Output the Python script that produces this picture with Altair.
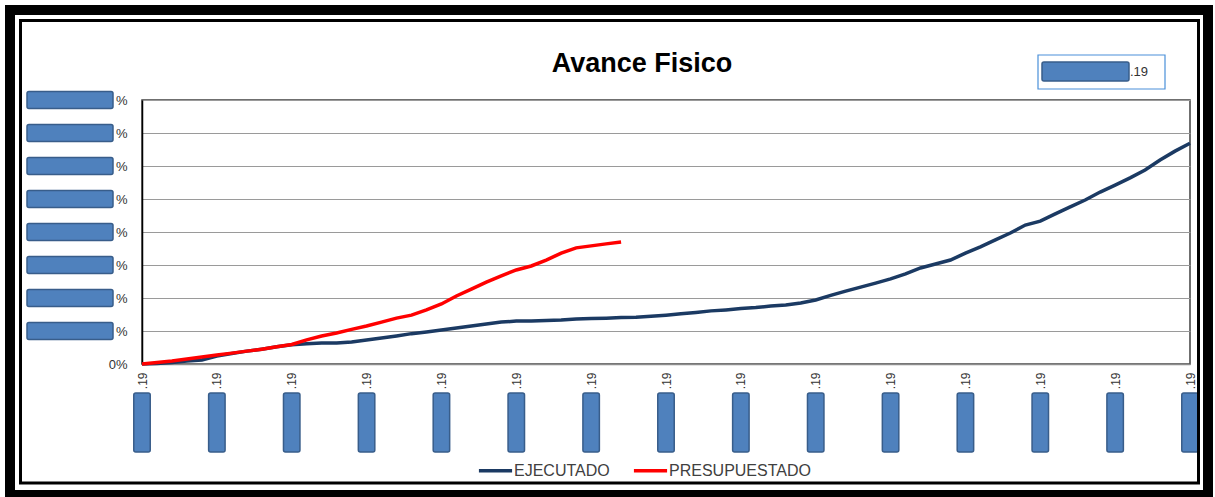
import altair as alt
import pandas as pd

# ---------------- data ----------------
series_names = ["EJECUTADO", "PRESUPUESTADO"]
series_colors = ["#1B3A63", "#FF0000"]

ejecutado = [0, 0.15, 0.45, 0.9, 1.2, 2.4, 3.2, 3.9, 4.5, 5.2,
             5.8, 6.1, 6.4, 6.4, 6.7, 7.3, 7.9, 8.5, 9.2, 9.7,
             10.3, 10.9, 11.5, 12.1, 12.7, 13.0, 13.0, 13.2, 13.3, 13.6,
             13.8, 13.9, 14.1, 14.2, 14.5, 14.8, 15.2, 15.6, 16.1, 16.4,
             16.8, 17.1, 17.6, 17.9, 18.5, 19.4, 20.8, 22.1, 23.3, 24.5,
             25.8, 27.3, 29.1, 30.3, 31.5, 33.6, 35.5, 37.6, 39.7, 42.1,
             43.3, 45.5, 47.6, 49.7, 52.1, 54.2, 56.4, 58.8, 61.8, 64.5,
             66.9]
presupuestado = [0, 0.45, 0.9, 1.5, 2.1, 2.7, 3.3, 3.9, 4.5, 5.2,
                 5.9, 7.3, 8.5, 9.4, 10.5, 11.5, 12.7, 13.9, 14.8, 16.4,
                 18.2, 20.6, 22.7, 24.8, 26.7, 28.5, 29.7, 31.5, 33.6, 35.2,
                 35.8, 36.4, 37.0]

x_ticks = list(range(0, 71, 5))
x_tick_label = ".19"
y_ticks = [0, 10, 20, 30, 40, 50, 60, 70, 80]
title_text = "Avance Fisico"
date_box_label = ".19"

FONT = "Liberation Sans"

df = pd.concat([
    pd.DataFrame({"idx": list(range(len(ejecutado))), "valor": ejecutado, "serie": series_names[0]}),
    pd.DataFrame({"idx": list(range(len(presupuestado))), "valor": presupuestado, "serie": series_names[1]}),
])

x_scale = alt.Scale(domain=[0, 70], nice=False, zero=False)
y_scale = alt.Scale(domain=[0, 80], nice=False)

x_axis = alt.Axis(
    values=x_ticks, labelExpr=f"'{x_tick_label}'", labelAngle=270,
    labelAlign="right", labelBaseline="middle", labelFontSize=12,
    labelFont=FONT, labelColor="#333333", ticks=False, tickSize=0,
    labelPadding=8, grid=False, domainColor="#8c8c8c", domainWidth=1.5,
    title=None)
y_axis = alt.Axis(
    values=y_ticks, labelExpr="datum.value == 0 ? '0%' : '%'",
    grid=True, gridColor="#9a9a9a", gridWidth=1.2, ticks=False, tickSize=0,
    labelPadding=15, labelFontSize=13, labelFont=FONT, labelColor="#333333",
    domainColor="#000000", domainWidth=1.5, title=None)

lines = alt.Chart(df).mark_line(strokeWidth=3.5).encode(
    x=alt.X("idx:Q", scale=x_scale, axis=x_axis),
    y=alt.Y("valor:Q", scale=y_scale, axis=y_axis),
    color=alt.Color("serie:N", scale=alt.Scale(domain=series_names, range=series_colors),
                    legend=alt.Legend(orient="none", legendX=335, legendY=352,
                                      direction="horizontal", title=None,
                                      symbolType="stroke", symbolSize=1100,
                                      symbolStrokeWidth=3.5, labelFontSize=16,
                                      labelFont=FONT, labelColor="#404040",
                                      columnPadding=16, labelOffset=0)),
)

BOX_FILL = "#4F81BD"
BOX_STROKE = "#385D8A"

ybox = alt.Chart(pd.DataFrame({"v": y_ticks[1:]})).transform_calculate(
    lo="datum.v - 2.6", hi="datum.v + 2.6"
).mark_rect(fill=BOX_FILL, stroke=BOX_STROKE, strokeWidth=1.5, cornerRadius=2).encode(
    y=alt.Y("lo:Q", scale=y_scale, axis=y_axis), y2="hi:Q",
    x=alt.value(-115), x2=alt.value(-29),
)

xbox = alt.Chart(pd.DataFrame({"v": x_ticks})).transform_calculate(
    lo="datum.v - 0.55", hi="datum.v + 0.55"
).mark_rect(fill=BOX_FILL, stroke=BOX_STROKE, strokeWidth=1.5, cornerRadius=2).encode(
    x=alt.X("lo:Q", scale=x_scale, axis=x_axis), x2="hi:Q",
    y=alt.value(293), y2=alt.value(352),
)

one = pd.DataFrame({"t": [date_box_label], "title": [title_text]})
title_mark = alt.Chart(one).mark_text(align="center", baseline="alphabetic", fontSize=27,
                                      font=FONT, fontWeight="bold", color="#000000").encode(
    text="title:N", x=alt.value(500), y=alt.value(-28))
date_frame = alt.Chart(one).mark_rect(fillOpacity=0, stroke="#4A90D9", strokeWidth=1.2).encode(
    x=alt.value(896), x2=alt.value(1023), y=alt.value(-45), y2=alt.value(-11))
date_fill = alt.Chart(one).mark_rect(fill=BOX_FILL, stroke=BOX_STROKE, strokeWidth=1.5, cornerRadius=2).encode(
    x=alt.value(900), x2=alt.value(987), y=alt.value(-38), y2=alt.value(-19))
date_text = alt.Chart(one).mark_text(align="left", baseline="middle", fontSize=13, font=FONT,
                                     color="#333333").encode(
    text="t:N", x=alt.value(988), y=alt.value(-28))

frame_outer = alt.Chart(one).mark_rect(fillOpacity=0, stroke="#000000", strokeWidth=10).encode(
    x=alt.value(-132), x2=alt.value(1066), y=alt.value(-90), y2=alt.value(395))
frame_inner = alt.Chart(one).mark_rect(fillOpacity=0, stroke="#000000", strokeWidth=3).encode(
    x=alt.value(-121.5), x2=alt.value(1056.5), y=alt.value(-79.5), y2=alt.value(383))

chart = alt.layer(
    lines, ybox, xbox, title_mark, date_frame, date_fill, date_text, frame_outer, frame_inner
).properties(
    width=1048, height=264,
    padding={"left": 142, "top": 100, "right": 25, "bottom": 133},
    autosize=alt.AutoSizeParams(type="none"),
).configure_view(stroke="#404040", strokeWidth=1.5)

chart.save("out.html", embed_options={"renderer": "svg", "actions": False})
